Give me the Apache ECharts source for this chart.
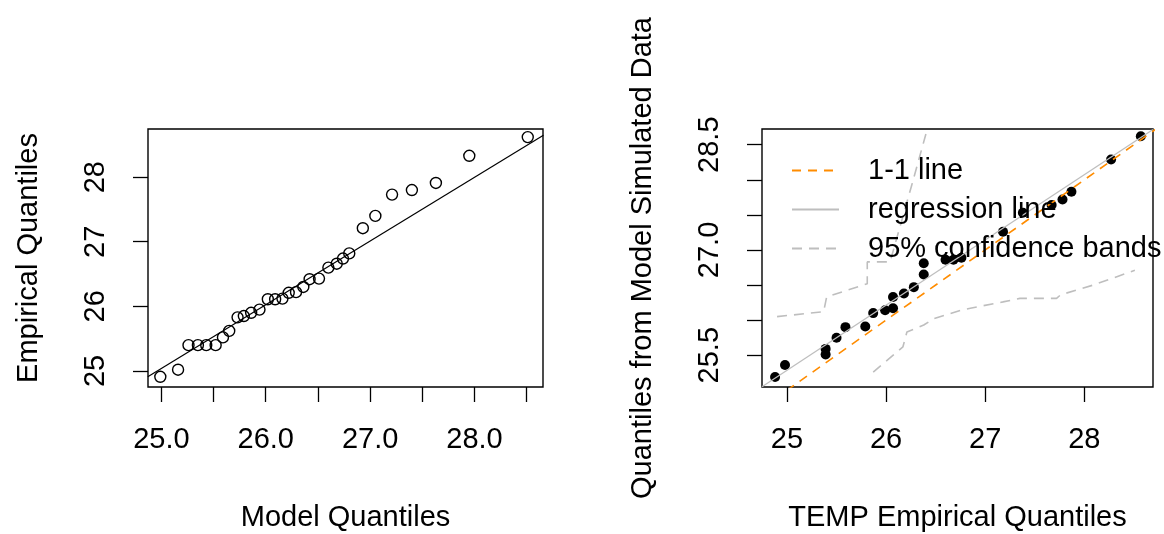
<!DOCTYPE html>
<html>
<head>
<meta charset="utf-8">
<style>html,body{margin:0;padding:0;background:#fff;}#c{width:1164px;height:534px;}</style>
<script src="https://cdn.jsdelivr.net/npm/echarts@6/dist/echarts.min.js"></script>
</head>
<body>
<div id="c"></div>
<script>
// ---- Left panel: QQ plot (model quantiles vs empirical quantiles)
const leftModelQ = [24.99, 25.16, 25.26, 25.35, 25.43, 25.52, 25.59, 25.65, 25.73, 25.79, 25.86, 25.94,
  26.02, 26.09, 26.16, 26.22, 26.29, 26.36, 26.42, 26.51, 26.60, 26.68, 26.74, 26.80,
  26.93, 27.05, 27.21, 27.40, 27.63, 27.95, 28.51];
const leftEmpQ = [24.91, 25.02, 25.40, 25.40, 25.40, 25.40, 25.52, 25.62, 25.83, 25.85, 25.90, 25.95,
  26.11, 26.11, 26.12, 26.21, 26.22, 26.30, 26.42, 26.43, 26.60, 26.66, 26.74, 26.82,
  27.21, 27.40, 27.73, 27.80, 27.91, 28.33, 28.62];
const leftLineX = [24.87, 28.66];
const leftLineY = [24.91, 28.65];

// ---- Right panel: empirical vs simulated quantiles
const rightEmp = [24.88, 24.98, 25.39, 25.39, 25.50, 25.59, 25.79, 25.87, 25.99, 26.07, 26.07, 26.18,
  26.28, 26.38, 26.38, 26.60, 26.68, 26.76, 27.18, 27.38, 27.67, 27.78, 27.87, 28.27, 28.57];
const rightSim = [25.19, 25.36, 25.51, 25.59, 25.75, 25.90, 25.91, 26.10, 26.14, 26.17, 26.33, 26.38,
  26.47, 26.65, 26.81, 26.86, 26.86, 26.89, 27.26, 27.53, 27.64, 27.72, 27.83, 28.29, 28.62];
const oneToOneX = [24.6, 28.8];
const oneToOneY = [24.6, 28.8];
const regLineX = [24.748, 28.693];
const regLineY = [25.05, 28.716];
const upperBandX = [24.90, 25.37, 25.40, 25.81, 25.81, 26.04, 26.26, 26.46];
const upperBandY = [26.05, 26.12, 26.33, 26.52, 26.83, 26.83, 27.93, 28.95];
const lowerBandX = [25.87, 26.17, 26.21, 26.38, 26.48, 26.75, 26.85, 27.18, 27.35, 27.72, 27.76, 28.09, 28.51];
const lowerBandY = [25.26, 25.62, 25.83, 25.93, 26.02, 26.14, 26.17, 26.26, 26.31, 26.31, 26.36, 26.50, 26.71];

// ---- Tick values / labels
const leftXTicks = [25, 25.5, 26, 26.5, 27, 27.5, 28, 28.5];
const leftXLabels = [25, 26, 27, 28];
const leftYTicks = [25, 26, 27, 28];
const rightXTicks = [25, 26, 27, 28];
const rightYTicks = [25.5, 26, 26.5, 27, 27.5, 28, 28.5];
const rightYLabels = [25.5, 27, 28.5];

const FONT = "'Liberation Sans', Arial, sans-serif";
const zip = (a, b) => a.map((v, i) => [v, b[i]]);

const labelStyle = {fontSize: 29, color: '#000', fontFamily: FONT, margin: 38};
const tickStyle = {show: true, inside: false, length: 15, lineStyle: {color: '#000', width: 1.3}};
const nameStyle = {fontSize: 29, color: '#000', fontFamily: FONT};

const chart = echarts.init(document.getElementById('c'), null, {renderer: 'canvas'});
chart.setOption({
  animation: false,
  backgroundColor: '#fff',
  grid: [
    {left: 148, top: 129, width: 395, height: 258, show: true, borderColor: '#000', borderWidth: 1.4, backgroundColor: 'transparent'},
    {left: 762, top: 129, width: 391, height: 258, show: true, borderColor: '#000', borderWidth: 1.4, backgroundColor: 'transparent'}
  ],
  xAxis: [
    {gridIndex: 0, type: 'value', min: 24.872, max: 28.656,
     name: 'Model Quantiles', nameLocation: 'middle', nameGap: 116, nameTextStyle: nameStyle,
     axisLine: {show: false}, splitLine: {show: false},
     axisTick: Object.assign({}, tickStyle, {customValues: leftXTicks}),
     axisLabel: Object.assign({}, labelStyle, {customValues: leftXLabels, formatter: v => v.toFixed(1)})},
    {gridIndex: 1, type: 'value', min: 24.748, max: 28.693,
     name: 'TEMP Empirical Quantiles', nameLocation: 'middle', nameGap: 116, nameTextStyle: nameStyle,
     axisLine: {show: false}, splitLine: {show: false},
     axisTick: Object.assign({}, tickStyle, {customValues: rightXTicks}),
     axisLabel: Object.assign({}, labelStyle, {customValues: rightXTicks, formatter: v => String(Math.round(v))})}
  ],
  yAxis: [
    {gridIndex: 0, type: 'value', min: 24.752, max: 28.745,
     name: 'Empirical Quantiles', nameLocation: 'middle', nameGap: 105, nameTextStyle: nameStyle,
     axisLine: {show: false}, splitLine: {show: false},
     axisTick: Object.assign({}, tickStyle, {customValues: leftYTicks}),
     axisLabel: Object.assign({}, labelStyle, {rotate: 90, customValues: leftYTicks, formatter: v => String(Math.round(v))})},
    {gridIndex: 1, type: 'value', min: 25.047, max: 28.724,
     name: 'Quantiles from Model Simulated Data', nameLocation: 'middle', nameGap: 105, nameTextStyle: nameStyle,
     axisLine: {show: false}, splitLine: {show: false},
     axisTick: Object.assign({}, tickStyle, {customValues: rightYTicks}),
     axisLabel: Object.assign({}, labelStyle, {rotate: 90, customValues: rightYLabels, formatter: v => v.toFixed(1)})}
  ],
  legend: {
    left: 786, top: 151, orient: 'vertical',
    itemWidth: 47, itemHeight: 14, itemGap: 10,
    selectedMode: false,
    itemStyle: {opacity: 0},
    data: ['1-1 line', 'regression line', '95% confidence bands'],
    textStyle: {fontSize: 29, color: '#000', fontFamily: FONT, padding: [0, 0, 0, 24], lineHeight: 29}
  },
  series: [
    {type: 'line', name: 'qqline', xAxisIndex: 0, yAxisIndex: 0, data: zip(leftLineX, leftLineY),
     symbol: 'none', clip: true, silent: true, lineStyle: {color: '#000', width: 1.2}},
    {type: 'scatter', name: 'points', xAxisIndex: 0, yAxisIndex: 0, data: zip(leftModelQ, leftEmpQ),
     symbol: 'circle', symbolSize: 11, silent: true,
     itemStyle: {color: 'rgba(0,0,0,0)', borderColor: '#000', borderWidth: 1.4, opacity: 1}},

    {type: 'line', name: '95% confidence bands', xAxisIndex: 1, yAxisIndex: 1, data: zip(upperBandX, upperBandY),
     symbol: 'none', clip: true, silent: true, lineStyle: {color: '#bebebe', width: 1.6, type: [10, 7]}},
    {type: 'line', name: '95% confidence bands', xAxisIndex: 1, yAxisIndex: 1, data: zip(lowerBandX, lowerBandY),
     symbol: 'none', clip: true, silent: true, lineStyle: {color: '#bebebe', width: 1.6, type: [10, 7]}},
    {type: 'line', name: 'regression line', xAxisIndex: 1, yAxisIndex: 1, data: zip(regLineX, regLineY),
     symbol: 'none', clip: true, silent: true, lineStyle: {color: '#bebebe', width: 1.3}},
    {type: 'line', name: '1-1 line', xAxisIndex: 1, yAxisIndex: 1, data: zip(oneToOneX, oneToOneY),
     symbol: 'none', clip: true, silent: true, lineStyle: {color: '#ff8c00', width: 1.6, type: [9, 7]}},
    {type: 'scatter', name: 'sim points', xAxisIndex: 1, yAxisIndex: 1, data: zip(rightEmp, rightSim),
     symbol: 'circle', symbolSize: 10, silent: true, itemStyle: {color: '#000', opacity: 1}}
  ]
});
</script>
</body>
</html>
